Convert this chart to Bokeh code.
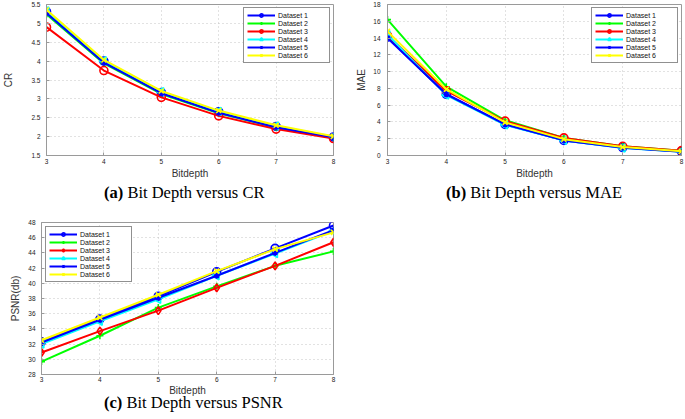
import numpy as np
from bokeh.plotting import figure
from bokeh.models import FixedTicker, Div
from bokeh.layouts import column, row
from bokeh.embed import file_html
from bokeh.resources import INLINE

bitdepth = [3, 4, 5, 6, 7, 8]
dataset_names = ["Dataset 1", "Dataset 2", "Dataset 3", "Dataset 4", "Dataset 5", "Dataset 6"]

# (a) Compression ratio
cr_ds1 = [5.31, 4.00, 3.17, 2.66, 2.27, 1.99]
cr_ds2 = [5.24, 3.94, 3.13, 2.62, 2.24, 1.97]
cr_ds3 = [4.90, 3.75, 3.04, 2.55, 2.20, 1.95]
cr_ds4 = [5.33, 4.01, 3.19, 2.67, 2.28, 2.00]
cr_ds5 = [5.27, 3.96, 3.15, 2.63, 2.25, 1.98]
cr_ds6 = [5.36, 4.03, 3.21, 2.69, 2.30, 2.01]

# (b) Mean absolute error
mae_ds1 = [14.1, 7.3, 3.70, 1.80, 0.95, 0.47]
mae_ds2 = [16.2, 8.2, 4.20, 2.10, 1.10, 0.58]
mae_ds3 = [14.3, 7.7, 4.10, 2.10, 1.10, 0.58]
mae_ds4 = [14.4, 7.2, 3.65, 1.80, 0.90, 0.45]
mae_ds5 = [14.0, 7.3, 3.70, 1.80, 0.92, 0.46]
mae_ds6 = [14.8, 7.9, 3.95, 1.95, 1.00, 0.50]

# (c) PSNR
psnr_ds1 = [32.3, 35.3, 38.3, 41.5, 44.6, 47.6]
psnr_ds2 = [29.7, 33.1, 36.8, 39.6, 42.3, 44.2]
psnr_ds3 = [30.9, 33.7, 36.4, 39.4, 42.3, 45.4]
psnr_ds4 = [32.0, 35.0, 37.9, 41.0, 43.9, 46.9]
psnr_ds5 = [32.2, 35.2, 38.1, 41.0, 44.0, 47.0]
psnr_ds6 = [32.5, 35.5, 38.5, 41.6, 44.5, 46.7]

cr_ticks = [1.5, 2, 2.5, 3, 3.5, 4, 4.5, 5, 5.5]
mae_ticks = [0, 2, 4, 6, 8, 10, 12, 14, 16, 18]
psnr_ticks = [28, 30, 32, 34, 36, 38, 40, 42, 44, 46, 48]
x_ticks = [3, 4, 5, 6, 7, 8]

captions = [("(a)", "Bit Depth versus CR"), ("(b)", "Bit Depth versus MAE"), ("(c)", "Bit Depth versus PSNR")]

colors = ["#0000ff", "#00ff00", "#ff0000", "#00ffff", "#0000ff", "#ffff00"]
markers_ab = ["circle", "cross", "circle", "triangle", "asterisk", "x"]
markers_c = ["circle", "cross", "diamond", "triangle", "asterisk", "x"]
marker_sizes = [8, 7, 8, 8, 6, 7]
marker_angles = [0, 0, 0, np.pi / 2, 0, 0]

SANS = "Liberation Sans"
SERIF = "Liberation Serif"


def make_fig(series, yticks, ylabel, markers, width, height, bl, br, bt, bb,
             legend_loc, legend_margin, ylab_standoff, ytick_standoff,
             xtick_standoff=3, xlab_standoff=1):
    p = figure(width=width, height=height, output_backend="svg", toolbar_location=None,
               x_range=(x_ticks[0], x_ticks[-1]), y_range=(yticks[0], yticks[-1]),
               min_border_left=bl, min_border_right=br, min_border_top=bt, min_border_bottom=bb)
    p.background_fill_color = "white"
    p.border_fill_color = "white"
    p.outline_line_color = "#9a9a9a"
    p.outline_line_width = 1

    for ys, name, col, mk, ms, ang in zip(series, dataset_names, colors, markers, marker_sizes, marker_angles):
        p.line(bitdepth, ys, color=col, line_width=2, legend_label=name)
        p.scatter(bitdepth, ys, marker=mk, size=ms, angle=ang, line_color=col, line_width=1.6,
                  fill_color=col if mk == "asterisk" else None, legend_label=name)

    p.xaxis.ticker = FixedTicker(ticks=x_ticks)
    p.yaxis.ticker = FixedTicker(ticks=yticks)
    p.xaxis.major_label_overrides = {t: f"{t:g}" for t in x_ticks}
    p.yaxis.major_label_overrides = {t: f"{t:g}" for t in yticks}
    for ax in (p.xaxis[0], p.yaxis[0]):
        ax.axis_line_color = "#9a9a9a"
        ax.major_tick_line_color = "#9a9a9a"
        ax.major_tick_in = 3
        ax.major_tick_out = 0
        ax.minor_tick_line_color = None
        ax.major_label_text_font = SANS
        ax.major_label_text_font_size = "6.5px"
        ax.major_label_text_color = "#222222"
        ax.axis_label_text_font = SANS
        ax.axis_label_text_font_size = "10px"
        ax.axis_label_text_font_style = "normal"
        ax.axis_label_text_color = "#333333"
    p.xaxis.axis_label = "Bitdepth"
    p.xaxis.major_label_standoff = xtick_standoff
    p.xaxis.axis_label_standoff = xlab_standoff
    p.yaxis.axis_label = ylabel
    p.yaxis.major_label_standoff = ytick_standoff
    p.yaxis.axis_label_standoff = ylab_standoff

    p.xgrid.ticker = FixedTicker(ticks=x_ticks)
    p.ygrid.ticker = FixedTicker(ticks=yticks)
    for g in (p.xgrid[0], p.ygrid[0]):
        g.grid_line_color = "#c4c4c4"
        g.grid_line_dash = "1 3"
        g.grid_line_width = 1

    lg = p.legend[0]
    lg.location = legend_loc
    lg.margin = legend_margin
    lg.padding = 3
    lg.spacing = 0
    lg.label_height = 8
    lg.glyph_height = 8
    lg.glyph_width = 28
    lg.label_standoff = 3
    lg.label_width = 48
    lg.label_text_font = SANS
    lg.label_text_font_size = "7px"
    lg.label_text_color = "#111111"
    lg.border_line_color = "#222222"
    lg.border_line_width = 1
    lg.background_fill_color = "white"
    lg.background_fill_alpha = 1
    return p


def make_caption(tag, text, width, height, indent, line_h):
    return Div(text=f"<b>{tag}</b> {text}", width=width, height=height,
               styles={"font-family": SERIF, "font-size": "16.5px", "color": "black",
                       "text-indent": f"{indent}px", "line-height": f"{line_h}px",
                       "white-space": "nowrap", "margin": "0", "padding": "0"})


fa = make_fig([cr_ds1, cr_ds2, cr_ds3, cr_ds4, cr_ds5, cr_ds6], cr_ticks, "CR", markers_ab,
              340, 181, 41, 7, 4, 25, "top_right", 3, 14, 6)
fb = make_fig([mae_ds1, mae_ds2, mae_ds3, mae_ds4, mae_ds5, mae_ds6], mae_ticks, "MAE", markers_ab,
              345, 181, 47, 4, 4, 25, "top_right", 3, 3, 7)
fc = make_fig([psnr_ds1, psnr_ds2, psnr_ds3, psnr_ds4, psnr_ds5, psnr_ds6], psnr_ticks, "PSNR(db)", markers_c,
              340, 181, 41, 7, 4, 25, "top_left", 4, 4, 6, 2, 0)

cap_a = make_caption(*captions[0], 340, 37, 104, 24)
cap_b = make_caption(*captions[1], 345, 37, 106, 24)
cap_c = make_caption(*captions[2], 340, 20, 104, 8)

layout = column(row(fa, fb), row(cap_a, cap_b), fc, cap_c)
open("out.html", "w").write(file_html(layout, INLINE))
